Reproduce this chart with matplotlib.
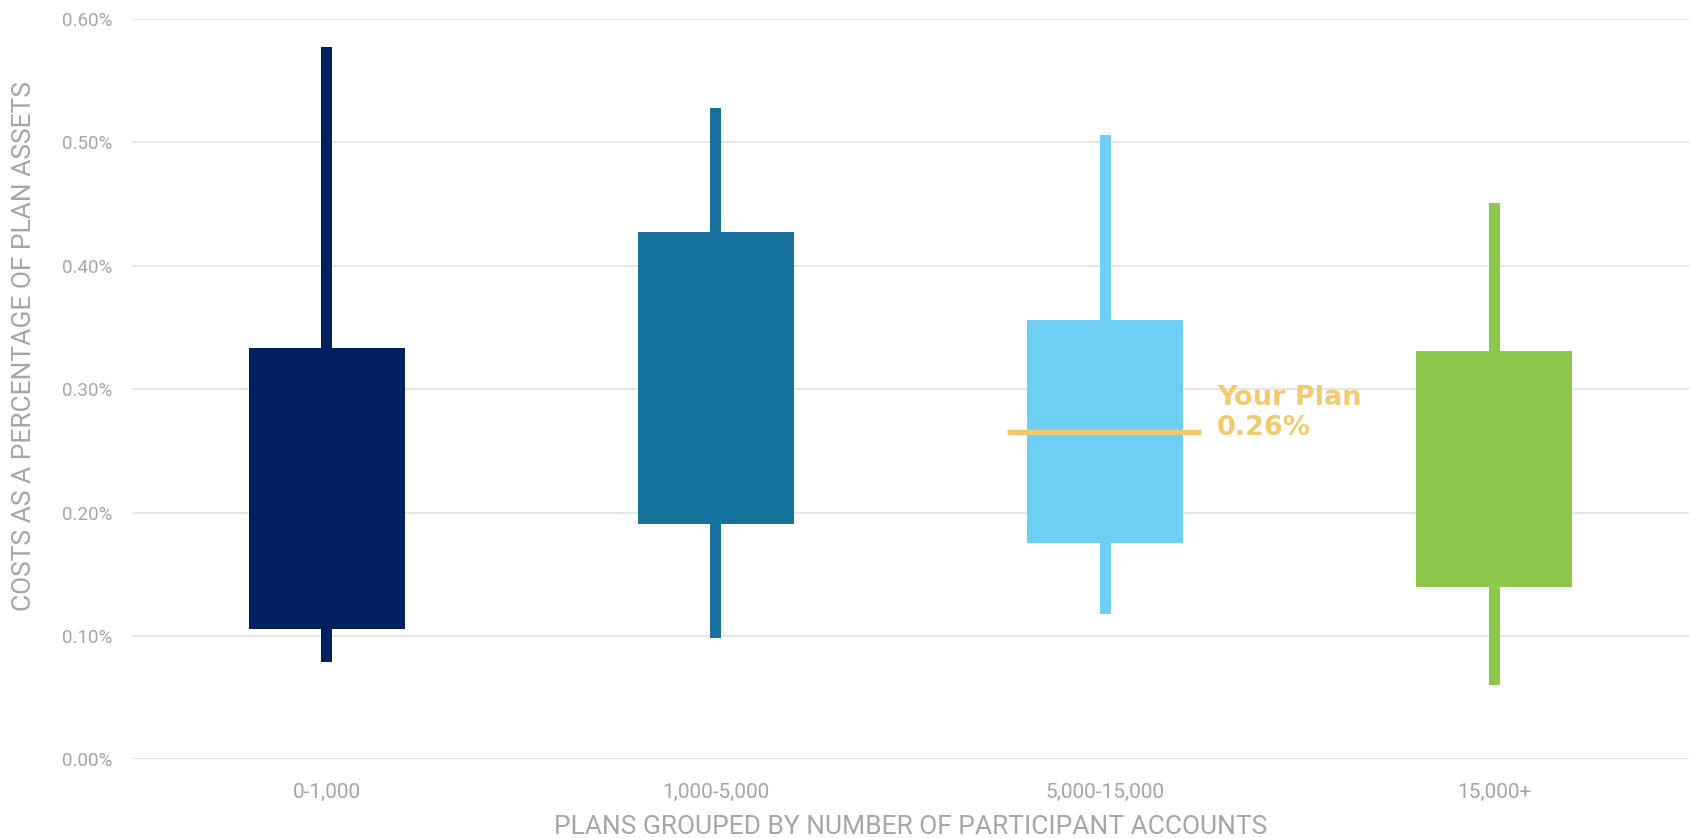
import matplotlib
matplotlib.use("Agg")
import matplotlib.pyplot as plt
from matplotlib.ticker import FuncFormatter

# costs as % of plan assets
groups = ['0-1,000', '1,000-5,000', '5,000-15,000', '15,000+']
whisker_low = [0.079, 0.098, 0.118, 0.060]
box_low = [0.106, 0.191, 0.175, 0.140]
box_high = [0.333, 0.427, 0.356, 0.331]
whisker_high = [0.577, 0.528, 0.506, 0.451]
colors = ['#00205F', '#17729E', '#6DCFF6', '#8BC84B']

your_plan_group = 2
your_plan_value = 0.265
your_plan_label = 'Your Plan\n0.26%'

narrow = ['Liberation Sans Narrow', 'Roboto', 'DejaVu Sans']
grey = '#A6A6A6'


def main():
    fig = plt.figure(figsize=(16.94, 8.38), dpi=100)
    ax = fig.add_axes([0.078, 0.0937, 0.919, 0.884])

    x = list(range(len(groups)))
    wh = [h - l for l, h in zip(whisker_low, whisker_high)]
    bx = [h - l for l, h in zip(box_low, box_high)]
    ax.bar(x, wh, bottom=whisker_low, width=0.028, color=colors, zorder=2)
    ax.bar(x, bx, bottom=box_low, width=0.4, color=colors, zorder=3)

    # your plan marker
    ax.plot([your_plan_group - 0.253, your_plan_group + 0.246],
            [your_plan_value, your_plan_value],
            color='#F0C870', lw=3.8, solid_capstyle='butt', zorder=4)
    ax.text(your_plan_group + 0.288, 0.281, your_plan_label, color='#F2C96F',
            fontsize=19.5, fontweight='bold', family='DejaVu Sans',
            va='center', ha='left', linespacing=1.2)

    ax.set_xlim(-0.5, 3.5)
    ax.set_ylim(0, 0.6)
    ax.set_yticks([0, 0.1, 0.2, 0.3, 0.4, 0.5, 0.6])
    ax.yaxis.set_major_formatter(FuncFormatter(lambda v, p: f'{v:.2f}%'))
    ax.set_xticks(x)
    ax.set_xticklabels(groups)

    ax.grid(axis='y', color='#E6E6E6', lw=1.4, zorder=0)
    ax.set_axisbelow(True)
    for s in ax.spines.values():
        s.set_visible(False)
    ax.tick_params(length=0)
    ax.tick_params(axis='y', pad=14, labelcolor=grey)
    ax.tick_params(axis='x', pad=17, labelcolor=grey)
    for lab in ax.get_yticklabels():
        lab.set_family('Roboto')
        lab.set_fontsize(13.5)
    for lab in ax.get_xticklabels():
        lab.set_family(narrow)
        lab.set_fontsize(15)

    ax.set_xlabel('PLANS GROUPED BY NUMBER OF PARTICIPANT ACCOUNTS',
                  family=narrow, fontsize=19, color=grey, va='baseline')
    ax.xaxis.set_label_coords(0.5, -0.101)
    ax.set_ylabel('COSTS AS A PERCENTAGE OF PLAN ASSETS',
                  family=narrow, fontsize=19, color=grey, va='center')
    ax.yaxis.set_label_coords(-0.0694, 0.558)

    fig.savefig('out.png', dpi=100)


if __name__ == "__main__":
    main()
